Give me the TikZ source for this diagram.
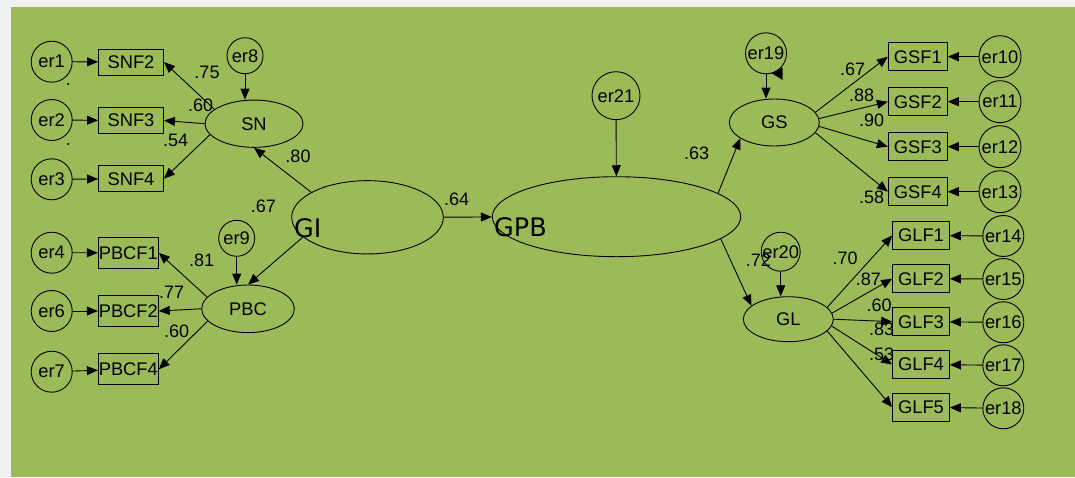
\documentclass[tikz,border=0pt]{standalone}
\usepackage{fontspec}
\setmainfont{Liberation Sans}
\newfontfamily\bigfam{DejaVu Sans}
\usetikzlibrary{shapes.geometric,arrows.meta}
\definecolor{bggreen}{HTML}{9BBB59}
\definecolor{bggray}{HTML}{F0F0F0}
\tikzset{
  base/.style={draw=black, line width=0.9pt, inner sep=0pt, font=\fontsize{18.3}{21}\selectfont},
  obs/.style={base, rectangle},
  lat/.style={base, ellipse},
  err/.style={base, circle},
  arr/.style={line width=0.9pt, -{Triangle[length=11pt,width=9pt]}},
  lbl/.style={inner sep=0pt, font=\fontsize{18}{21}\selectfont},
  bigtxt/.style={inner sep=0pt, font=\bigfam\fontsize{25.5}{29}\selectfont},
}
\begin{document}
\begin{tikzpicture}[x=1pt,y=-1pt]
\useasboundingbox (0,0) rectangle (1075,477);
\fill[bggray] (0,0) rectangle (1075,477);
\fill[bggreen] (11,7.3) rectangle (1075,477);

% SN block
\node[obs, minimum width=65pt, minimum height=26pt] (SNF2) at (131,62) {SNF2};
\node[obs, minimum width=65pt, minimum height=26pt] (SNF3) at (131,120.5) {SNF3};
\node[obs, minimum width=65pt, minimum height=26pt] (SNF4) at (131,178.7) {SNF4};
\node[err, minimum size=41pt] (er1) at (51.7,61.7) {er1};
\node[err, minimum size=41pt] (er2) at (51.7,120) {er2};
\node[err, minimum size=41pt] (er3) at (51.7,179.3) {er3};
\node[lbl] (dot1) at (68.3,85) {.};
\node[lbl] (dot2) at (68.3,144.5) {.};
\node[lat, minimum width=98pt, minimum height=47.3pt] (SN) at (254,123.7) {SN};
\node[err, minimum size=36pt] (er8) at (245,55.7) {er8};

% PBC block
\node[obs, minimum width=60pt, minimum height=31pt] (PBCF1) at (128.3,252.8) {PBCF1};
\node[obs, minimum width=60pt, minimum height=31pt] (PBCF2) at (128.3,311) {PBCF2};
\node[obs, minimum width=60pt, minimum height=31pt] (PBCF4) at (128.3,369.3) {PBCF4};
\node[err, minimum size=41pt] (er4) at (51.7,252.7) {er4};
\node[err, minimum size=41pt] (er6) at (51.7,311) {er6};
\node[err, minimum size=41pt] (er7) at (51.7,371.7) {er7};
\node[lat, minimum width=92.6pt, minimum height=47.6pt] (PBC) at (248,308.8) {PBC};
\node[err, minimum size=36pt] (er9) at (236.7,238.3) {er9};

% GI and GPB
\node[lat, minimum width=151.6pt, minimum height=73.3pt] (GI) at (367.5,217.3) {};
\node[bigtxt, anchor=west] (GItxt) at (294,228.3) {GI};
\node[lat, minimum width=248.4pt, minimum height=80pt] (GPB) at (616.5,216.7) {};
\node[bigtxt, anchor=west] (GPBtxt) at (494,227.5) {GPB};
\node[err, minimum size=48pt] (er21) at (616,95.7) {er21};

% GS block
\node[lat, minimum width=90pt, minimum height=47pt] (GS) at (774.3,122.5) {GS};
\node[err, minimum size=41pt] (er19) at (766,53.3) {er19};
\node[obs, minimum width=59pt, minimum height=28pt] (GSF1) at (917.8,56.7) {GSF1};
\node[obs, minimum width=59pt, minimum height=28pt] (GSF2) at (917.8,101.7) {GSF2};
\node[obs, minimum width=59pt, minimum height=28pt] (GSF3) at (917.8,146.7) {GSF3};
\node[obs, minimum width=59pt, minimum height=28pt] (GSF4) at (917.8,191.7) {GSF4};
\node[err, minimum size=42pt] (er10) at (1000,56.7) {er10};
\node[err, minimum size=42pt] (er11) at (1000,101.7) {er11};
\node[err, minimum size=42pt] (er12) at (1000,146.7) {er12};
\node[err, minimum size=42pt] (er13) at (1000,191.7) {er13};

% GL block
\node[lat, minimum width=90pt, minimum height=45pt] (GL) at (788.3,319.2) {GL};
\node[err, minimum size=39pt] (er20) at (780.7,251.7) {er20};
\node[obs, minimum width=56.7pt, minimum height=27.7pt] (GLF1) at (921,235.5) {GLF1};
\node[obs, minimum width=56.7pt, minimum height=27.7pt] (GLF2) at (921,278.7) {GLF2};
\node[obs, minimum width=56.7pt, minimum height=27.7pt] (GLF3) at (921,321.7) {GLF3};
\node[obs, minimum width=56.7pt, minimum height=27.7pt] (GLF4) at (921,364.5) {GLF4};
\node[obs, minimum width=56.7pt, minimum height=27.7pt] (GLF5) at (921,407.2) {GLF5};
\node[err, minimum size=41pt] (er14) at (1003.3,236) {er14};
\node[err, minimum size=41pt] (er15) at (1003.3,279) {er15};
\node[err, minimum size=41pt] (er16) at (1003.3,322.3) {er16};
\node[err, minimum size=41pt] (er17) at (1003.3,365.3) {er17};
\node[err, minimum size=41pt] (er18) at (1003.3,408.3) {er18};

% connectors
\draw[arr] (er1) -- (SNF2);
\draw[arr] (er2) -- (SNF3);
\draw[arr] (er3) -- (SNF4);
\draw[arr] (SN.160) -- (SNF2.east);
\draw[arr] (SN.west) -- (SNF3.east);
\draw[arr] (SN.194) -- (SNF4.east);
\draw[arr] (er8) -- (er8 |- SN.north);
\draw[arr] (GI.156) -- (SN.south);

\draw[arr] (er4) -- (PBCF1);
\draw[arr] (er6) -- (PBCF2);
\draw[arr] (er7) -- (PBCF4);
\draw[arr] (PBC.164) -- (PBCF1.east);
\draw[arr] (PBC.west) -- (PBCF2.east);
\draw[arr] (PBC.197) -- (PBCF4.east);
\draw[arr] (er9) -- (er9 |- PBC.north);
\draw[arr] (GI.197) -- (PBC.north);

\draw[arr] (GI) -- (GPB);
\draw[arr] (er21) -- (GPB);
\draw[arr] (GPB.13) -- (GS.205);
\draw[arr] (GPB.-12) -- (GL.160);

\draw[arr] (er19) -- (er19 |- GS.north);
\fill (771.7,73.3) -- (782.7,67.3) -- (782.7,80) -- cycle;
\draw[arr] (GS.14) -- (GSF1.west);
\draw[arr] (GS.5) -- (GSF2.west);
\draw[arr] (GS.-5) -- (GSF3.west);
\draw[arr] (GS.-14) -- (GSF4.west);
\draw[arr] (er10) -- (GSF1);
\draw[arr] (er11) -- (GSF2);
\draw[arr] (er12) -- (GSF3);
\draw[arr] (er13) -- (GSF4);

\draw[arr] (er20) -- (er20 |- GL.north);
\draw[arr] (GL.17) -- (GLF1.west);
\draw[arr] (GL.8) -- (GLF2.west);
\draw[arr] (GL.0) -- (GLF3.west);
\draw[arr] (GL.-9) -- (GLF4.west);
\draw[arr] (GL.-17) -- (GLF5.west);
\draw[arr] (er14) -- (GLF1);
\draw[arr] (er15) -- (GLF2);
\draw[arr] (er16) -- (GLF3);
\draw[arr] (er17) -- (GLF4);
\draw[arr] (er18) -- (GLF5);

% labels
\node[lbl] (l1) at (207,72.7) {.75};
\node[lbl] (l2) at (200.7,105) {.60};
\node[lbl] (l3) at (175.7,140) {.54};
\node[lbl] (l4) at (298,156.5) {.80};
\node[lbl] (l5) at (263.3,206) {.67};
\node[lbl] (l6) at (201.7,260) {.81};
\node[lbl] (l7) at (171.7,292.7) {.77};
\node[lbl] (l8) at (176.7,331.7) {.60};
\node[lbl] (l9) at (456.7,199.3) {.64};
\node[lbl] (l10) at (696.7,153.3) {.63};
\node[lbl] (l11) at (852.7,69.3) {.67};
\node[lbl] (l12) at (861.7,95) {.88};
\node[lbl] (l13) at (871.7,120.7) {.90};
\node[lbl] (l14) at (871.7,197.7) {.58};
\node[lbl] (l15) at (758.3,260) {.72};
\node[lbl] (l16) at (845,258.3) {.70};
\node[lbl] (l17) at (868.3,279.3) {.87};
\node[lbl] (l18) at (879,305) {.60};
\node[lbl] (l19) at (881.7,329.3) {.83};
\node[lbl] (l20) at (881.7,354) {.53};
\end{tikzpicture}
\end{document}
